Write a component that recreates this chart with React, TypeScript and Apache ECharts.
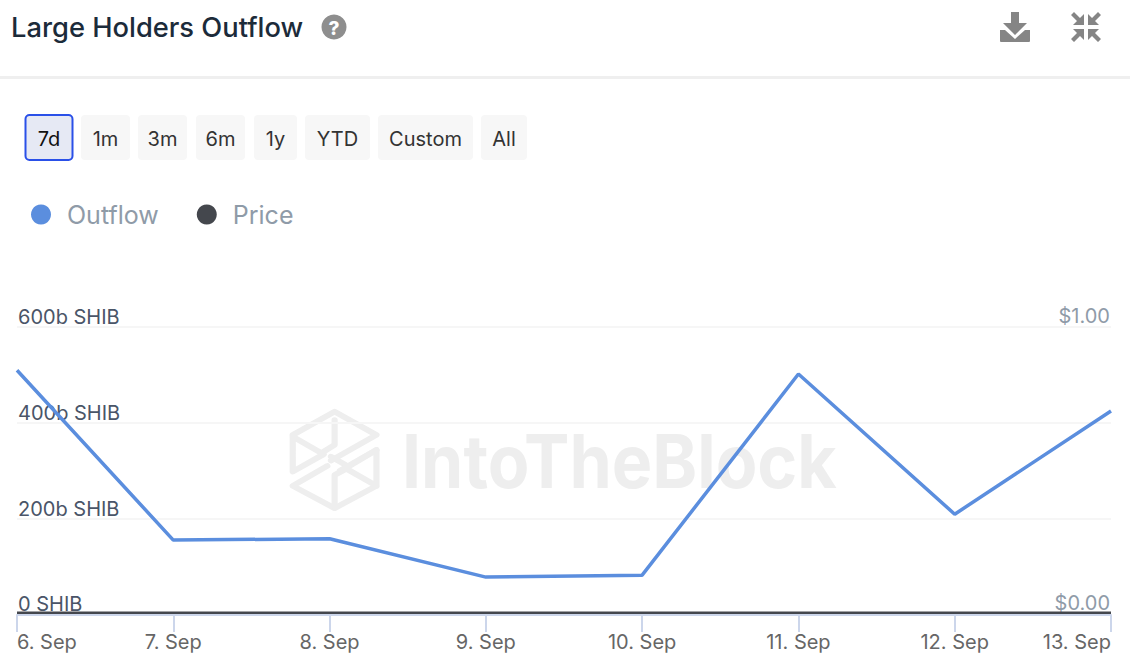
import React, { useEffect, useRef } from "react";
import * as echarts from "echarts";

const categories = ["6. Sep", "7. Sep", "8. Sep", "9. Sep", "10. Sep", "11. Sep", "12. Sep", "13. Sep"];
const outflow = [510, 156, 159, 79, 83, 502, 210, 425];
const price = [0.008, 0.008, 0.008, 0.008, 0.008, 0.008, 0.008, 0.008];
const rangeButtons = ["7d", "1m", "3m", "6m", "1y", "YTD", "Custom", "All"];
const buttonEdges = [[25.5, 72.5], [81, 130], [138, 187], [196, 245], [254, 297], [305, 370], [378, 473], [481, 527]];
const FONT = "Inter, 'Noto Sans', sans-serif";

const logoLines = [
  [[35, 105], [150, 35], [265, 105], [140, 182]],
  [[35, 110], [35, 215], [120, 163], [35, 110]],
  [[150, 60], [150, 135], [120, 155]],
  [[130, 198], [35, 258], [150, 325], [265, 258], [180, 205], [265, 150], [265, 258]],
  [[150, 320], [150, 225], [180, 208]],
  [[140, 170], [180, 195]],
  [[265, 150], [165, 212]],
];

echarts.graphic.registerShape("dlIcon", echarts.graphic.extendPath(
  "M11 0H19V11H27L15 23L3 11H11ZM0 18H5L15 27L25 18H30V29Q30 30 29 30H1Q0 30 0 29Z" as any, {}) as any);
echarts.graphic.registerShape("compressIcon", echarts.graphic.extendPath(
  "M3 0L9 6L13 2V13H2L6 9L0 3ZM27 0L30 3L24 9L28 13H17V2L21 6ZM2 17H13V28L9 24L3 30L0 27L6 21ZM17 17H28L24 21L30 27L27 30L21 24L17 28Z" as any, {}) as any);

export default function App() {
  const ref = useRef<HTMLDivElement>(null);
  useEffect(() => {
    const chart = echarts.init(ref.current!, null, { renderer: "svg" });
    const buttons: any[] = [];
    rangeButtons.forEach((label, i) => {
      const [a, b] = buttonEdges[i];
      const active = i === 0;
      buttons.push({
        type: "rect",
        shape: { x: a, y: 115, width: b - a, height: 45, r: 4 },
        style: active
          ? { fill: "#e6e9f4", stroke: "#2a50e8", lineWidth: 2 }
          : { fill: "#f7f7f7" },
      });
      buttons.push({
        type: "text",
        x: (a + b) / 2,
        y: 139,
        style: { text: label, font: `400 20px ${FONT}`, fill: active ? "#111" : "#333", align: "center", verticalAlign: "middle" },
      });
    });
    chart.setOption({
      animation: false,
      grid: { left: 17, right: 19, top: 327, bottom: 51, containLabel: false },
      legend: {
        left: 26,
        top: 197,
        icon: "circle",
        itemWidth: 20,
        itemHeight: 20,
        itemGap: 38,
        selectedMode: false,
        textStyle: { color: "#8f9ba8", fontFamily: FONT, fontSize: 25, padding: [0, 0, 0, 11] },
        data: ["Outflow", "Price"],
      },
      xAxis: {
        type: "category",
        boundaryGap: false,
        data: categories,
        axisLine: { lineStyle: { color: "#ccd6eb", width: 2 } },
        axisTick: { length: 17, lineStyle: { color: "#ccd6eb", width: 2 }, alignWithLabel: true },
        axisLabel: {
          color: "#666666", fontFamily: FONT, fontSize: 20, margin: 17,
          interval: 0, alignMinLabel: "left", alignMaxLabel: "right",
        },
      },
      yAxis: [
        {
          type: "value", min: 0, max: 600, interval: 200, position: "left",
          axisLine: { show: false }, axisTick: { show: false },
          splitLine: { lineStyle: { color: "#f6f6f6", width: 2 } },
          axisLabel: {
            inside: true, margin: 1, verticalAlign: "bottom", align: "left",
            color: "#4a5568", fontFamily: FONT, fontSize: 20, lineHeight: 20,
            formatter: (v: number) => (v === 0 ? "{z|0 SHIB}" : `${v}b SHIB`),
            rich: { z: { color: "#4a5568", fontFamily: FONT, fontSize: 20, lineHeight: 20, padding: [0, 0, 3, 0] } },
          },
        },
        {
          type: "value", min: 0, max: 1, interval: 1, position: "right",
          axisLine: { show: false }, axisTick: { show: false }, splitLine: { show: false },
          axisLabel: {
            inside: true, margin: 1, verticalAlign: "bottom", align: "right", padding: [0, 0, 1, 0],
            color: "#8f9ba8", fontFamily: FONT, fontSize: 20,
            formatter: (v: number) => (v === 0 ? `{z|$${v.toFixed(2)}}` : `$${v.toFixed(2)}`),
            rich: { z: { color: "#8f9ba8", fontFamily: FONT, fontSize: 20, padding: [0, 0, 1, 0] } },
          },
        },
      ],
      series: [
        {
          name: "Outflow", type: "line", yAxisIndex: 0, data: outflow, showSymbol: false, symbol: "none",
          lineStyle: { color: "#5b8ede", width: 3.5 }, itemStyle: { color: "#5b8ede" }, z: 4,
        },
        {
          name: "Price", type: "line", yAxisIndex: 1, data: price, showSymbol: false, symbol: "none",
          lineStyle: { color: "#44474d", width: 2.5 }, itemStyle: { color: "#44474d" }, z: 3,
        },
      ],
      graphic: [
        {
          type: "text", x: 11, y: 27,
          style: { text: "Large Holders Outflow", font: `500 27.3px ${FONT}`, fill: "#1c2b3a", verticalAlign: "middle" },
        },
        { type: "circle", shape: { cx: 334, cy: 27, r: 12.5 }, style: { fill: "#8e8e8e" } },
        {
          type: "text", x: 334, y: 28,
          style: { text: "?", font: `800 19px ${FONT}`, fill: "#fff", align: "center", verticalAlign: "middle" },
        },
        { type: "dlIcon", x: 1000, y: 12, style: { fill: "#858585" } },
        { type: "compressIcon", x: 1071, y: 12, style: { fill: "#858585" } },
        { type: "rect", shape: { x: 0, y: 76, width: 1130, height: 3 }, style: { fill: "#efefef" } },
        ...buttons,
        {
          type: "group", x: 280, y: 400, scaleX: 1 / 2.75, scaleY: 1 / 3, z: -1,
          children: logoLines.map((points) => ({
            type: "polyline",
            shape: { points },
            style: { stroke: "#eeeeee", lineWidth: 17, fill: "none", lineJoin: "round", lineCap: "round" },
          })),
        },
        {
          type: "text", x: 402, y: 461, scaleY: 1.09, z: -1,
          style: { text: "IntoTheBlock", font: `700 68px ${FONT}`, fill: "#eeeeee", verticalAlign: "middle" },
        },
      ],
    });
    return () => chart.dispose();
  }, []);
  return <div ref={ref} style={{ position: "fixed", left: 0, top: 0, width: 1130, height: 666, background: "#fff" }} />;
}
